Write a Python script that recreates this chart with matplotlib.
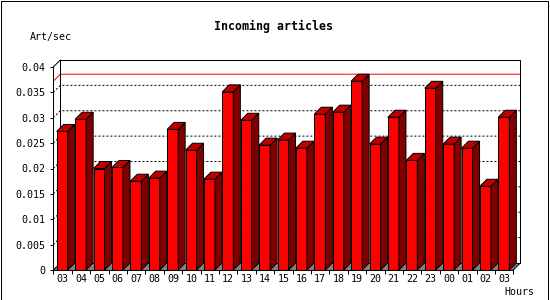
import matplotlib
matplotlib.use('Agg')
import matplotlib.pyplot as plt
from matplotlib.patches import Polygon, Rectangle

# hourly incoming article rate (articles / second)
hours = ['03', '04', '05', '06', '07', '08', '09', '10', '11', '12', '13', '14', '15',
         '16', '17', '18', '19', '20', '21', '22', '23', '00', '01', '02', '03']
rates = [0.0273, 0.0297, 0.0200, 0.0202, 0.0175, 0.0181, 0.0277, 0.0236, 0.0179,
         0.0351, 0.0295, 0.0246, 0.0256, 0.0240, 0.0307, 0.0311, 0.0372, 0.0248,
         0.0301, 0.0216, 0.0358, 0.0248, 0.0240, 0.0165, 0.0301]
yticks = [0, 0.005, 0.01, 0.015, 0.02, 0.025, 0.03, 0.035, 0.04]

plt.rcParams['font.family'] = ['DejaVu Sans Mono']
n = len(rates)
ymax = 0.04
dx = 7 / 18.4          # 3d depth in slot units
dy = 7 / 5075          # 3d depth in data units
bar_off, bar_w = 0.185, 0.6

fig = plt.figure(figsize=(5.5, 3), dpi=100)
ax = fig.add_axes([53.3 / 550, 30 / 300, 467 / 550, 210 / 300])
ax.set_xlim(0, n + dx)
ax.set_ylim(0, ymax + dy)

lw = 0.72
# floor
ax.add_patch(Polygon([(0, 0), (n, 0), (n + dx, dy), (dx, dy)], closed=True,
                     facecolor='#808080', edgecolor='none', zorder=1))
# dotted grid on back and left walls
for v in yticks[1:-1]:
    ax.plot([0, dx, n + dx], [v, v + dy, v + dy], color='black', lw=lw,
            linestyle=(0, (2, 2)), zorder=2)
# max line
top = max(rates)
ax.plot([0, dx, n + dx], [top, top + dy, top + dy], color='red', lw=lw, zorder=2)
# back frame
ax.add_patch(Rectangle((dx, dy), n, ymax, fill=False, edgecolor='black', lw=lw,
                       zorder=2, clip_on=False))
ax.plot([0, dx], [ymax, ymax + dy], color='black', lw=lw, zorder=2, clip_on=False)
ax.plot([0, dx], [0, dy], color='black', lw=lw, zorder=2)
ax.plot([n, n + dx], [0, dy], color='black', lw=lw, zorder=2, clip_on=False)

# 3d bars
for i, v in enumerate(rates):
    x0 = i + bar_off
    x1 = x0 + bar_w
    z = 3 + i
    ax.bar(x0, v, width=bar_w, align='edge', color='#ff0000', edgecolor='black',
           lw=lw, zorder=z)
    ax.add_patch(Polygon([(x1, 0), (x1 + dx, dy), (x1 + dx, v + dy), (x1, v)],
                         closed=True, facecolor='#800000', edgecolor='black',
                         lw=lw, zorder=z))
    ax.add_patch(Polygon([(x0, v), (x0 + dx, v + dy), (x1 + dx, v + dy), (x1, v)],
                         closed=True, facecolor='#c00000', edgecolor='black',
                         lw=lw, zorder=z))

# axes
for s in ['top', 'right']:
    ax.spines[s].set_visible(False)
ax.spines['left'].set_bounds(0, ymax)
ax.spines['bottom'].set_bounds(0, n)
for s in ['left', 'bottom']:
    ax.spines[s].set_linewidth(lw)
    ax.spines[s].set_zorder(40)

ax.set_yticks(yticks)
ax.set_yticklabels(['%g' % t for t in yticks])
ax.tick_params(axis='y', length=2.2, width=lw, pad=3.5, labelsize=7.2)
ax.set_xticks(range(n + 1))
ax.set_xticklabels([])
ax.set_xticks([i + 0.5 for i in range(n)], minor=True)
ax.set_xticklabels(hours, minor=True)
ax.tick_params(axis='x', which='major', length=3, width=lw)
ax.tick_params(axis='x', which='minor', length=0, pad=3, labelsize=7.2)

fig.text(273 / 550, 1 - 26.7 / 300, 'Incoming articles', ha='center', va='center',
         fontsize=8.4, fontweight='bold')
fig.text(30 / 550, 1 - 36.7 / 300, 'Art/sec', ha='left', va='center', fontsize=7.2)
fig.text(534 / 550, 1 - 292 / 300, 'Hours', ha='right', va='center', fontsize=7.2)

# outer border
fig.patches.append(Rectangle((0.5 / 550, 0.5 / 300), 547 / 550, 299 / 300,
                             transform=fig.transFigure, fill=False,
                             edgecolor='black', lw=lw))

fig.savefig('out.png', dpi=100)
